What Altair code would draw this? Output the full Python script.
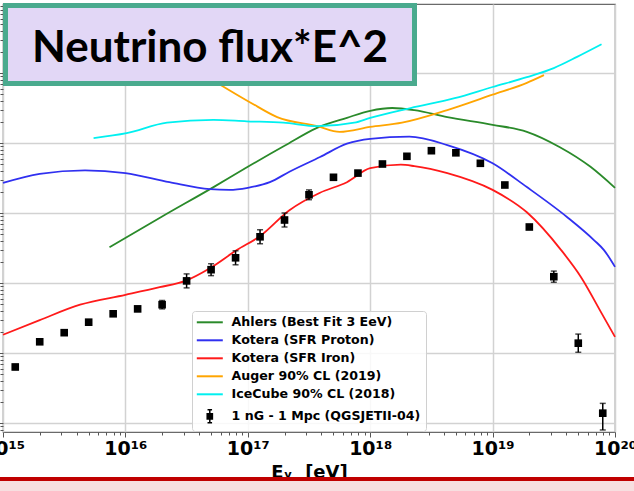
import altair as alt
import pandas as pd

# ---- model curves: log10(E / eV) and log10(E^2 * flux) ----
ahlers_logE = [15.87, 16.30, 16.72, 17.00, 17.30, 17.57, 17.81, 18.00, 18.18, 18.36, 18.63, 19.00, 19.28, 19.55, 19.80, 20.00]
ahlers_logF = [-8.49, -8.05, -7.63, -7.34, -7.04, -6.78, -6.64, -6.54, -6.50, -6.53, -6.63, -6.74, -6.84, -7.06, -7.34, -7.64]

proton_logE = [15.00, 15.30, 15.67, 16.00, 16.36, 16.69, 16.85, 17.00, 17.18, 17.34, 17.59, 17.81, 18.00, 18.32, 18.63, 19.00, 19.28, 19.61, 19.83, 19.91, 20.00]
proton_logF = [-7.57, -7.44, -7.39, -7.43, -7.56, -7.66, -7.67, -7.64, -7.56, -7.41, -7.20, -7.01, -6.94, -6.91, -7.03, -7.29, -7.63, -8.06, -8.39, -8.53, -8.77]

iron_logE = [15.00, 15.30, 15.63, 16.00, 16.28, 16.49, 16.69, 16.91, 17.10, 17.34, 17.59, 17.81, 18.00, 18.25, 18.36, 18.63, 19.00, 19.28, 19.56, 19.72, 19.89, 20.00]
iron_logF = [-9.74, -9.53, -9.31, -9.17, -9.06, -8.97, -8.79, -8.53, -8.33, -7.96, -7.71, -7.56, -7.36, -7.31, -7.33, -7.43, -7.67, -7.99, -8.53, -8.91, -9.43, -9.77]

auger_logE = [16.74, 17.02, 17.24, 17.57, 17.75, 18.00, 18.26, 18.63, 19.00, 19.28, 19.42]
auger_logF = [-6.13, -6.42, -6.63, -6.76, -6.84, -6.77, -6.71, -6.53, -6.31, -6.14, -6.03]

icecube_logE = [15.74, 16.01, 16.34, 16.72, 16.99, 17.29, 17.57, 17.87, 18.00, 18.33, 18.69, 19.00, 19.28, 19.50, 19.69, 19.89]
icecube_logF = [-6.93, -6.86, -6.71, -6.67, -6.69, -6.71, -6.76, -6.71, -6.64, -6.50, -6.36, -6.20, -6.06, -5.93, -5.77, -5.59]

# ---- simulated neutrino flux, 1 nG - 1 Mpc (QGSJETII-04) ----
sim_logE = [15.1, 15.3, 15.5, 15.7, 15.9, 16.1, 16.3, 16.5, 16.7, 16.9, 17.1, 17.3, 17.5,
            17.7, 17.9, 18.1, 18.3, 18.5, 18.7, 18.9, 19.1, 19.3, 19.5, 19.7, 19.9]
sim_logF = [-10.20, -9.84, -9.71, -9.56, -9.44, -9.37, -9.31, -8.97, -8.81, -8.64, -8.34, -8.10, -7.74,
            -7.49, -7.43, -7.30, -7.19, -7.11, -7.14, -7.29, -7.60, -8.20, -8.91, -9.86, -10.86]
sim_err_up = [0.035, 0.035, 0.035, 0.035, 0.035, 0.035, 0.06, 0.10, 0.085, 0.10, 0.10, 0.10, 0.07,
              0.03, 0.03, 0.03, 0.03, 0.03, 0.03, 0.03, 0.03, 0.03, 0.08, 0.13, 0.14]
sim_err_dn = [0.035, 0.035, 0.035, 0.035, 0.035, 0.035, 0.06, 0.10, 0.085, 0.10, 0.10, 0.10, 0.07,
              0.03, 0.03, 0.03, 0.03, 0.03, 0.03, 0.03, 0.03, 0.03, 0.08, 0.13, 0.24]

series_names = [
    "Ahlers (Best Fit 3 EeV)",
    "Kotera (SFR Proton)",
    "Kotera (SFR Iron)",
    "Auger 90% CL (2019)",
    "IceCube 90% CL (2018)",
    "1 nG - 1 Mpc (QGSJETII-04)",
]
series_colors = ["#2a8a2a", "#3030f0", "#ff1a1a", "#ffa500", "#00f0f0", "#000000"]

title_text = "Neutrino flux*E^2"
x_title = "E\u1d65\u00a0\u00a0[eV]"
x_tick_labels = ["10\u00b9\u2075", "10\u00b9\u2076", "10\u00b9\u2077", "10\u00b9\u2078", "10\u00b9\u2079", "10\u00b2\u2070"]

# ---- tables ----
rows = []
for name, le, lf in [
    (series_names[0], ahlers_logE, ahlers_logF),
    (series_names[1], proton_logE, proton_logF),
    (series_names[2], iron_logE, iron_logF),
    (series_names[3], auger_logE, auger_logF),
    (series_names[4], icecube_logE, icecube_logF),
]:
    for i, (a, b) in enumerate(zip(le, lf)):
        rows.append({"model": name, "E": 10 ** a, "flux": 10 ** b, "i": i})
curves = pd.DataFrame(rows)

sim = pd.DataFrame({
    "E": [10 ** v for v in sim_logE],
    "flux": [10 ** v for v in sim_logF],
    "lo": [10 ** (v - d) for v, d in zip(sim_logF, sim_err_dn)],
    "hi": [10 ** (v + u) for v, u in zip(sim_logF, sim_err_up)],
})

W, H = 612, 428
x_scale = alt.Scale(type="log", domain=[1e15, 1e20], nice=False)
y_scale = alt.Scale(type="log", domain=[10 ** -11.129, 10 ** -5.014], nice=False)

x_major = [10.0 ** k for k in range(15, 21)]
x_minor = [m * 10.0 ** k for k in range(15, 20) for m in range(2, 10)]
y_major = [10.0 ** k for k in range(-11, -5)]
y_minor = [m * 10.0 ** k for k in range(-12, -5) for m in range(2, 10)]

label_font = "DejaVu Sans"

x_axis = alt.Axis(
    values=x_major, orient="bottom", grid=True, gridColor="#d2d2d2", gridWidth=1.5,
    domain=False, ticks=True, tickSize=5, tickColor="#555555", tickWidth=1,
    labelExpr="%s[round(log(datum.value) / LN10) - 15]" % str(x_tick_labels),
    labelFont=label_font, labelFontWeight="bold", labelFontSize=19, labelColor="#000000",
    labelFlush=False, labelPadding=2, labelOverlap=False,
    title=x_title, titleFont=label_font, titleFontWeight="bold", titleFontSize=18,
    titleColor="#000000", titlePadding=5,
)
y_axis = alt.Axis(
    values=y_major, orient="left", grid=True, gridColor="#d2d2d2", gridWidth=1.5,
    domain=False, ticks=True, tickSize=5, tickColor="#555555", labels=False, title=None,
)
x_axis_minor = alt.Axis(
    values=x_minor, orient="bottom", grid=False, domain=False, ticks=True, tickSize=3,
    tickColor="#555555", labels=False, title=None,
)
y_axis_minor = alt.Axis(
    values=y_minor, orient="left", grid=False, domain=False, ticks=True, tickSize=3,
    tickColor="#555555", labels=False, title=None,
)

sim_name = series_names[5]
line_path = "M-1,0H3"
sim_path = "M0.6,-0.4H1.4V0.4H0.6Z M1,-1V1 M0.65,-1H1.35 M0.65,1H1.35"
is_sim = "datum.value === '%s'" % sim_name

legend = alt.Legend(
    title=None, orient="none", legendX=189, legendY=307,
    symbolType={"expr": "%s ? '%s' : '%s'" % (is_sim, sim_path, line_path)},
    symbolFillColor={"expr": "%s ? 'black' : 'transparent'" % is_sim},
    symbolStrokeWidth={"expr": "%s ? 1.5 : 2" % is_sim},
    symbolSize=169,
    labelFont=label_font, labelFontWeight="bold", labelFontSize=12.6, labelColor="#000000",
    labelLimit=400, labelOffset=22, rowPadding=5, padding=5,
    fillColor="rgba(255,255,255,0.85)", strokeColor="#d0d0d0", cornerRadius=3,
)

lines = alt.Chart(curves).mark_line(strokeWidth=1.8, interpolate="monotone").encode(
    x=alt.X("E:Q", scale=x_scale, axis=x_axis),
    y=alt.Y("flux:Q", scale=y_scale, axis=y_axis),
    color=alt.Color("model:N", scale=alt.Scale(domain=series_names, range=series_colors), legend=legend),
    order="i:Q",
)

minor_ticks = alt.Chart(sim).mark_point(opacity=0).encode(
    x=alt.X("E:Q", scale=x_scale, axis=x_axis_minor),
    y=alt.Y("flux:Q", scale=y_scale, axis=y_axis_minor),
)

err = alt.Chart(sim).mark_rule(color="black", strokeWidth=1.5).encode(
    x=alt.X("E:Q", scale=x_scale, axis=None),
    y=alt.Y("lo:Q", scale=y_scale, axis=None),
    y2="hi:Q",
)
cap_lo = alt.Chart(sim).mark_tick(color="black", orient="horizontal", size=6, thickness=1.5).encode(
    x=alt.X("E:Q", scale=x_scale, axis=None),
    y=alt.Y("lo:Q", scale=y_scale, axis=None),
)
cap_hi = alt.Chart(sim).mark_tick(color="black", orient="horizontal", size=6, thickness=1.5).encode(
    x=alt.X("E:Q", scale=x_scale, axis=None),
    y=alt.Y("hi:Q", scale=y_scale, axis=None),
)
points = alt.Chart(sim).mark_square(color="black", size=58, opacity=1).encode(
    x=alt.X("E:Q", scale=x_scale, axis=None),
    y=alt.Y("flux:Q", scale=y_scale, axis=None),
)

# header box with the slide title
box_df = pd.DataFrame({"t": [title_text]})
title_box = alt.Chart(box_df).mark_rect(
    fill="#e2d7f6", stroke="#4aaa8e", strokeWidth=5
).encode(
    x=alt.value(2.5), x2=alt.value(411.5), y=alt.value(1.5), y2=alt.value(79.5),
)
title_label = alt.Chart(box_df).mark_text(
    font="Lato", fontWeight="bold", fontSize=44, color="#000000",
    align="center", baseline="alphabetic",
).encode(text="t:N", x=alt.value(207), y=alt.value(58))

# slide footer: dark red rule above a pale pink strip
footer_red = alt.Chart(box_df).mark_rect(fill="#c00000").encode(
    x=alt.value(-3), x2=alt.value(631), y=alt.value(473), y2=alt.value(477),
)
footer_pink = alt.Chart(box_df).mark_rect(fill="#f7dfe0").encode(
    x=alt.value(-3), x2=alt.value(631), y=alt.value(477), y2=alt.value(487),
)

chart = alt.layer(
    lines, minor_ticks, err, cap_lo, cap_hi, points,
    title_box, title_label, footer_red, footer_pink,
).resolve_axis(x="independent", y="independent").properties(
    width=W, height=H,
    autosize=alt.AutoSizeParams(type="none"),
    padding={"left": 3, "top": 4, "right": 19, "bottom": 59},
    background="white",
).configure_view(stroke="#6a6a6a", strokeWidth=1.2)

chart.save("out.html", embed_options={"renderer": "svg", "actions": False})
